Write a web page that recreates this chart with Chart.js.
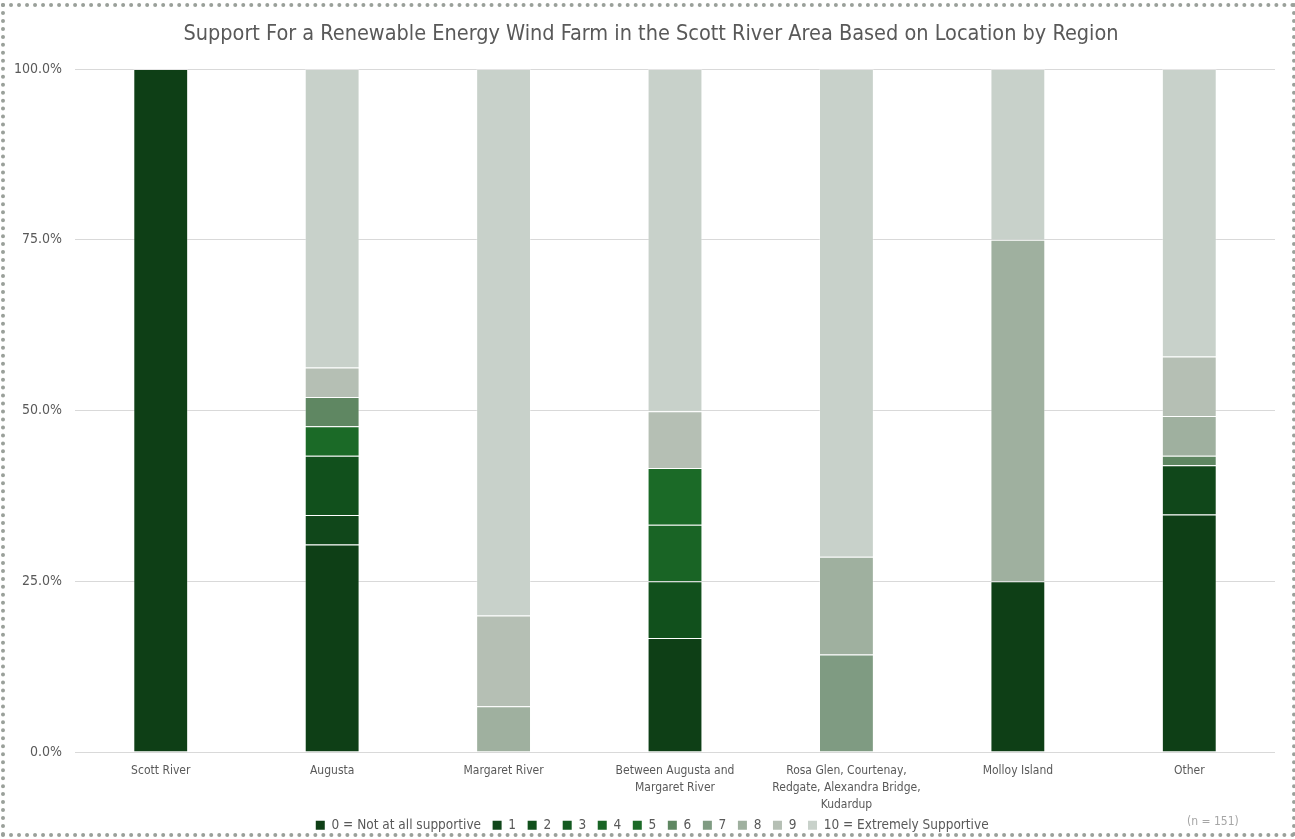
<!DOCTYPE html>
<html>
<head>
<meta charset="utf-8">
<script src="https://cdn.jsdelivr.net/npm/chart.js@4"></script>
<style>
  html, body { margin: 0; padding: 0; background: #ffffff; }
  #wrap { position: relative; width: 1295px; height: 839px; overflow: hidden; background: #fff; }
  #frame { position: absolute; left: 1px; top: 3px; width: 1287px; height: 826px; border: 4px dotted #9aa09a; pointer-events: none; box-sizing: content-box; }
  #title { position: absolute; left: 0; width: 1302px; top: 20px; text-align: center; font: 21.5px 'Liberation Sans Narrow', 'DejaVu Sans Condensed', sans-serif; color: #595959; white-space: nowrap; }
  #note { position: absolute; left: 1187px; top: 814px; font: 12px 'Liberation Sans Narrow', 'DejaVu Sans Condensed', sans-serif; color: #a6a6a6; }
  canvas { position: absolute; left: 0; top: 0; }
</style>
</head>
<body>
<div id="wrap">
  <canvas id="c" width="1295" height="839"></canvas>
  <div id="title"></div>
  <div id="frame"></div>
  <div id="note">(n = 151)</div>
</div>
<script>
const title = 'Support For a Renewable Energy Wind Farm in the Scott River Area Based on Location by Region';
const categories = [
  ['Scott River'],
  ['Augusta'],
  ['Margaret River'],
  ['Between Augusta and', 'Margaret River'],
  ['Rosa Glen, Courtenay,', 'Redgate, Alexandra Bridge,', 'Kudardup'],
  ['Molloy Island'],
  ['Other']
];
const seriesNames = ['0 = Not at all supportive', '1', '2', '3', '4', '5', '6', '7', '8', '9', '10 = Extremely Supportive'];
const s0  = [100, 30.4, 0, 16.7, 0, 25, 34.8];
const s1  = [0, 4.3, 0, 0, 0, 0, 7.2];
const s2  = [0, 8.7, 0, 8.3, 0, 0, 0];
const s3  = [0, 0, 0, 0, 0, 0, 0];
const s4  = [0, 0, 0, 8.3, 0, 0, 0];
const s5  = [0, 4.3, 0, 8.3, 0, 0, 0];
const s6  = [0, 4.3, 0, 0, 0, 0, 1.4];
const s7  = [0, 0, 0, 0, 14.3, 0, 0];
const s8  = [0, 0, 6.7, 0, 14.3, 50, 5.8];
const s9  = [0, 4.3, 13.3, 8.3, 0, 0, 8.7];
const s10 = [0, 43.7, 80, 50.1, 71.4, 25, 42.1];
const yTicks = [0, 25, 50, 75, 100];
const colors = ['#0e3f16', '#10471a', '#11501c', '#135a20', '#196425', '#1b6a27', '#5f8762', '#7f9b82', '#9fb09f', '#b5bfb4', '#c8d1ca'];

const seriesValues = [s0, s1, s2, s3, s4, s5, s6, s7, s8, s9, s10];
const FONT = "'Liberation Sans Narrow', 'DejaVu Sans Condensed', sans-serif";

document.getElementById('title').textContent = title;

const legendShift = {
  id: 'legendShift',
  afterLayout(chart) {
    const lg = chart.legend;
    if (lg) { lg.left += 20; lg.right += 20; lg.top += 3; lg.bottom += 3; }
  }
};

new Chart(document.getElementById('c'), {
  type: 'bar',
  data: {
    labels: categories,
    datasets: seriesValues.map((vals, i) => ({
      label: seriesNames[i],
      data: vals,
      backgroundColor: colors[i],
      borderColor: 'rgba(255,255,255,0.3)',
      borderWidth: 1,
      barPercentage: 0.32,
      categoryPercentage: 1.0
    }))
  },
  plugins: [legendShift],
  options: {
    responsive: false,
    animation: false,
    devicePixelRatio: 1,
    layout: { padding: { left: 1, right: 20, top: 69, bottom: 0 } },
    plugins: {
      title: { display: false },
      legend: {
        position: 'bottom',
        labels: {
          boxWidth: 9,
          boxHeight: 9,
          color: '#595959',
          padding: 0,
          font: { family: FONT, size: 13.5 },
          generateLabels: (chart) => {
            const items = Chart.defaults.plugins.legend.labels.generateLabels(chart);
            items.forEach(it => { it.text = it.text + '   '; it.lineWidth = 0; });
            return items;
          }
        }
      },
      tooltip: { enabled: false }
    },
    scales: {
      x: {
        stacked: true,
        grid: { display: false },
        border: { display: false },
        ticks: { color: '#595959', font: { family: FONT, size: 12, lineHeight: 1.4 }, maxRotation: 0, autoSkip: false, padding: 2.5 }
      },
      y: {
        stacked: true,
        min: 0,
        max: 100,
        afterBuildTicks: (axis) => { axis.ticks = yTicks.map(v => ({ value: v })); },
        grid: { color: '#d9d9d9', drawTicks: false },
        border: { display: false },
        ticks: {
          color: '#595959',
          font: { family: FONT, size: 14 },
          padding: 13,
          callback: (v) => Number(v).toFixed(1) + '%'
        }
      }
    }
  }
});
</script>
</body>
</html>
